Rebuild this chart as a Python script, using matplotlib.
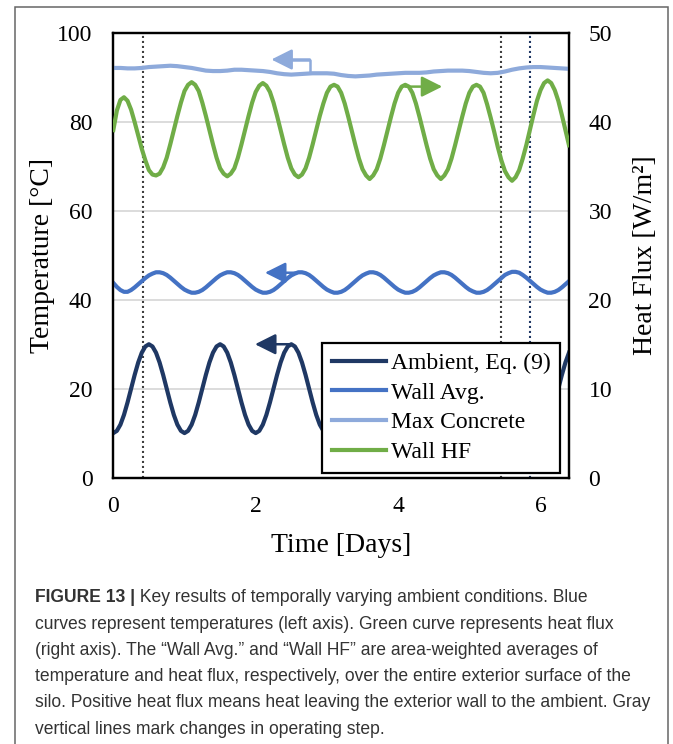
import numpy as np
import matplotlib
matplotlib.use("Agg")
import matplotlib.pyplot as plt
from matplotlib.patches import Rectangle

# ---------------- data ----------------
time_days = np.round(np.arange(0, 6.4 + 1e-9, 0.05), 2)      # 129 samples
time_slow = np.round(np.arange(0, 6.4 + 1e-9, 0.1), 1)       # 65 samples

ambient = [
    10.0, 10.5, 11.9, 14.1, 16.9, 20.0, 23.1, 25.9, 28.1, 29.5, 30.0, 29.5, 28.1, 25.9, 23.1, 20.0, 16.9, 14.1, 11.9, 10.5,
    10.0, 10.5, 11.9, 14.1, 16.9, 20.0, 23.1, 25.9, 28.1, 29.5, 30.0, 29.5, 28.1, 25.9, 23.1, 20.0, 16.9, 14.1, 11.9, 10.5,
    10.0, 10.5, 11.9, 14.1, 16.9, 20.0, 23.1, 25.9, 28.1, 29.5, 30.0, 29.5, 28.1, 25.9, 23.1, 20.0, 16.9, 14.1, 11.9, 10.5,
    10.0, 10.5, 11.9, 14.1, 16.9, 20.0, 23.1, 25.9, 28.1, 29.5, 30.0, 29.5, 28.1, 25.9, 23.1, 20.0, 16.9, 14.1, 11.9, 10.5,
    10.0, 10.5, 11.9, 14.1, 16.9, 20.0, 23.1, 25.9, 28.1, 29.5, 30.0, 29.5, 28.1, 25.9, 23.1, 20.0, 16.9, 14.1, 11.9, 10.5,
    10.0, 10.5, 11.9, 14.1, 16.9, 20.0, 23.1, 25.9, 28.1, 29.5, 30.0, 29.5, 28.1, 25.9, 23.1, 20.0, 16.9, 14.1, 11.9, 10.5,
    10.0, 10.5, 11.9, 14.1, 16.9, 20.0, 23.1, 25.9, 28.1,
]

wall_avg = [
    43.8, 42.9, 42.2, 41.8, 41.8, 42.2, 42.8, 43.5, 44.2, 44.9, 45.5, 45.9, 46.2, 46.2, 46.0, 45.6, 45.0, 44.3, 43.6, 42.9,
    42.3, 41.9, 41.6, 41.6, 41.8, 42.2, 42.8, 43.5, 44.2, 44.9, 45.5, 45.9, 46.2, 46.2, 46.0, 45.6, 45.0, 44.3, 43.6, 42.9,
    42.3, 41.9, 41.6, 41.6, 41.8, 42.2, 42.8, 43.5, 44.2, 44.9, 45.5, 45.9, 46.2, 46.2, 46.0, 45.6, 45.0, 44.3, 43.6, 42.9,
    42.3, 41.9, 41.6, 41.6, 41.8, 42.2, 42.8, 43.5, 44.2, 44.9, 45.5, 45.9, 46.2, 46.2, 46.0, 45.6, 45.0, 44.3, 43.6, 42.9,
    42.3, 41.9, 41.6, 41.6, 41.8, 42.2, 42.8, 43.5, 44.2, 44.9, 45.5, 45.9, 46.2, 46.2, 46.0, 45.6, 45.0, 44.3, 43.6, 42.9,
    42.3, 41.9, 41.6, 41.6, 41.8, 42.2, 42.8, 43.5, 44.2, 44.9, 45.6, 46.0, 46.3, 46.3, 46.1, 45.6, 45.0, 44.3, 43.6, 42.9,
    42.3, 41.9, 41.6, 41.6, 41.8, 42.2, 42.8, 43.5, 44.2,
]

wall_hf = [
    39.1, 41.3, 42.5, 42.8, 42.4, 41.4, 40.0, 38.5, 37.0, 35.7, 34.6, 34.1, 34.0, 34.2, 34.9, 36.0, 37.5, 39.1, 40.7, 42.2,
    43.5, 44.2, 44.5, 44.2, 43.5, 42.2, 40.7, 39.1, 37.5, 36.0, 34.8, 34.2, 33.9, 34.2, 34.8, 36.0, 37.5, 39.1, 40.7, 42.2,
    43.4, 44.1, 44.4, 44.1, 43.4, 42.2, 40.7, 39.1, 37.5, 36.0, 34.8, 34.1, 33.8, 34.1, 34.8, 36.0, 37.5, 39.1, 40.7, 42.1,
    43.3, 44.0, 44.2, 44.0, 43.3, 42.1, 40.6, 39.0, 37.4, 35.9, 34.7, 34.0, 33.6, 34.0, 34.7, 35.9, 37.4, 39.0, 40.6, 42.1,
    43.3, 44.0, 44.2, 44.0, 43.3, 42.1, 40.6, 39.0, 37.4, 35.9, 34.7, 34.0, 33.6, 34.0, 34.7, 35.9, 37.4, 39.0, 40.6, 42.1,
    43.3, 44.0, 44.2, 44.0, 43.3, 42.0, 40.5, 38.9, 37.2, 35.7, 34.5, 33.8, 33.4, 33.8, 34.6, 35.9, 37.4, 39.1, 40.8, 42.4,
    43.6, 44.4, 44.7, 44.4, 43.6, 42.4, 40.8, 39.1, 37.4,
]

max_concrete = [
    92.2, 92.2, 92.1, 92.1, 92.2, 92.4, 92.5, 92.6, 92.7, 92.6,
    92.4, 92.2, 91.9, 91.6, 91.5, 91.5, 91.6, 91.8, 91.8, 91.7,
    91.6, 91.5, 91.3, 91.0, 90.8, 90.7, 90.8, 90.9, 91.0, 91.0,
    91.0, 90.9, 90.6, 90.4, 90.3, 90.4, 90.5, 90.7, 90.8, 90.9,
    91.0, 91.1, 91.1, 91.1, 91.2, 91.4, 91.5, 91.6, 91.6, 91.6,
    91.5, 91.3, 91.1, 91.0, 91.1, 91.4, 91.8, 92.1, 92.3, 92.4,
    92.4, 92.3, 92.2, 92.1, 92.0,
]

series_labels = ["Ambient, Eq. (9)", "Wall Avg.", "Max Concrete", "Wall HF"]
series_colors = ["#1f3864", "#4472c4", "#8eaadb", "#70ad47"]

step_times = [0.42, 5.44, 5.85]
step_colors = ["#404040", "#404040", "#203864"]

temp_ticks = [0, 20, 40, 60, 80, 100]
hf_ticks = [0, 10, 20, 30, 40, 50]
time_ticks = [0, 2, 4, 6]

caption_bold = "FIGURE 13 |"
caption_lines = [
    " Key results of temporally varying ambient conditions. Blue",
    "curves represent temperatures (left axis). Green curve represents heat flux",
    "(right axis). The \u201cWall Avg.\u201d and \u201cWall HF\u201d are area-weighted averages of",
    "temperature and heat flux, respectively, over the entire exterior surface of the",
    "silo. Positive heat flux means heat leaving the exterior wall to the ambient. Gray",
    "vertical lines mark changes in operating step.",
]

# ---------------- figure ----------------
W, H = 673, 744
fig = plt.figure(figsize=(W / 100, H / 100), dpi=100)
fig.patch.set_facecolor("white")

serif = ["Liberation Serif", "DejaVu Serif"]
sans = ["Liberation Sans", "DejaVu Sans"]

ax = fig.add_axes([113.3 / W, 1 - 477.5 / H, (569 - 113.3) / W, (477.5 - 33.3) / H])
ax2 = ax.twinx()

ax.set_xlim(0, 6.4)
ax.set_ylim(0, 100)
ax2.set_ylim(0, 50)

ax.set_yticks(temp_ticks)
ax2.set_yticks(hf_ticks)
ax.set_xticks(time_ticks)

ax.yaxis.grid(True, color="#d9d9d9", lw=1.3)
ax.set_axisbelow(True)

for sp in list(ax.spines.values()) + list(ax2.spines.values()):
    sp.set_linewidth(1.6)
    sp.set_color("black")

ax.tick_params(axis="both", length=0, labelsize=17)
ax.tick_params(axis="y", pad=15)
ax.tick_params(axis="x", pad=13)
ax2.tick_params(axis="y", length=0, labelsize=17, pad=14)
for lab in ax.get_xticklabels() + ax.get_yticklabels() + ax2.get_yticklabels():
    lab.set_family(serif)

# step lines
for tx, c in zip(step_times, step_colors):
    ax.axvline(tx, color=c, lw=1.5, ls=(0, (1, 1.4)), zorder=1)

lw = 3.0
l_amb, = ax.plot(time_days, ambient, color=series_colors[0], lw=lw, zorder=3,
                 label=series_labels[0])
l_wall, = ax.plot(time_days, wall_avg, color=series_colors[1], lw=lw, zorder=3,
                  label=series_labels[1])
l_max, = ax.plot(time_slow, max_concrete, color=series_colors[2], lw=lw, zorder=3,
                 label=series_labels[2])
l_hf, = ax2.plot(time_days, wall_hf, color=series_colors[3], lw=lw, zorder=3,
                 label=series_labels[3])

# direction arrows
def arrow(axis, xy_tip, xy_tail, color):
    axis.annotate("", xy=xy_tip, xytext=xy_tail,
                  arrowprops=dict(arrowstyle="-|>,head_length=0.7,head_width=0.35",
                                  color=color, lw=1.8, shrinkA=0, shrinkB=0,
                                  mutation_scale=18), zorder=4)

# Max concrete: elbow arrow
ax.plot([2.76, 2.76, 2.45], [91.0, 94.1, 94.1], color=series_colors[2], lw=1.8, zorder=4)
arrow(ax, (2.22, 94.1), (2.76, 94.1), series_colors[2])
arrow(ax, (2.13, 46.1), (2.63, 46.1), series_colors[1])
arrow(ax, (1.99, 30.0), (2.5, 30.0), series_colors[0])
arrow(ax2, (4.62, 44.0), (4.1, 44.0), series_colors[3])

ax.set_ylabel("Temperature [\u00b0C]", fontsize=20, family=serif)
ax2.set_ylabel("Heat Flux [W/m\u00b2]", fontsize=20, family=serif, rotation=90)
ax.set_xlabel("Time [Days]", fontsize=20, family=serif)
ax.yaxis.set_label_coords((43 - 113.3) / 455.7, 0.5)
ax2.yaxis.set_label_coords((645 - 113.3) / 455.7, 0.5)
ax.xaxis.set_label_coords(0.5, (477.5 - 545) / 444.2)
ax.yaxis.label.set_va("center")
ax2.yaxis.label.set_va("center")
ax.xaxis.label.set_va("center")

leg = ax2.legend([l_amb, l_wall, l_max, l_hf], series_labels,
                 loc="lower right", bbox_to_anchor=(0.98, 0.011), borderaxespad=0,
                 prop={"family": serif, "size": 17}, frameon=True, fancybox=False,
                 framealpha=1, edgecolor="black", handlelength=2.3, handletextpad=0.2,
                 labelspacing=0.35, borderpad=0.4)
leg.get_frame().set_linewidth(1.6)
leg.set_zorder(10)

# outer border
fig.patches.append(Rectangle((15 / W, -0.02), (668 - 15) / W, 1.02 - 6.7 / H,
                             transform=fig.transFigure, fill=False,
                             edgecolor="#666666", lw=1.1))

# caption
renderer = fig.canvas.get_renderer()
probe = fig.text(0, 0, caption_lines[4], fontsize=10, family=sans)
wpx = probe.get_window_extent(renderer).width
probe.remove()
cap_fs = 10 * (654 - 35) / wpx

x0 = 35 / W
base0 = 602.5
spacing = 26.2
cap_color = "#333333"
tb = fig.text(x0, 1 - base0 / H, caption_bold, fontsize=cap_fs, family=sans,
              weight="bold", color=cap_color, va="baseline")
bw = tb.get_window_extent(renderer).width
fig.text(x0 + bw / W, 1 - base0 / H, caption_lines[0], fontsize=cap_fs, family=sans,
         color=cap_color, va="baseline")
for i, line in enumerate(caption_lines[1:], start=1):
    fig.text(x0, 1 - (base0 + i * spacing) / H, line, fontsize=cap_fs, family=sans,
             color=cap_color, va="baseline")

fig.savefig("out.png", dpi=100, facecolor="white")
